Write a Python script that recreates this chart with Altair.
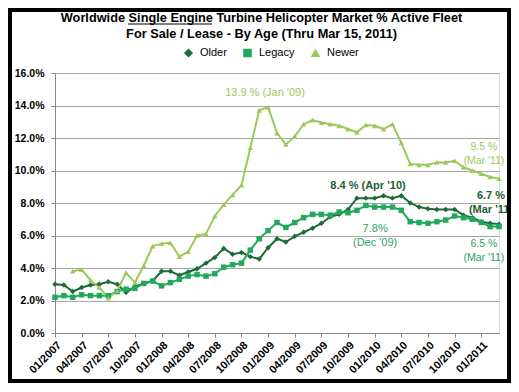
import altair as alt
import pandas as pd

# ---- data -------------------------------------------------------------
months = []
for yr in range(2007, 2012):
    for m in range(1, 13):
        if yr == 2011 and m > 3:
            break
        months.append(f"{m:02d}/{yr}")

series_names = ["Older", "Legacy", "Newer"]
series_colors = ["#1D6B38", "#22A85B", "#9CC95B"]
series_shapes = ["diamond", "square", "triangle-up"]

older = [3.0, 2.95, 2.55, 2.8, 2.95, 3.0, 3.15, 3.0, 2.5, 2.85,
         3.05, 3.2, 3.8, 3.8, 3.55, 3.75, 3.95, 4.3, 4.65, 5.2,
         4.85, 4.95, 4.7, 4.55, 5.25, 5.8, 5.6, 5.95, 6.2, 6.45,
         6.75, 7.15, 7.3, 7.6, 8.3, 8.3, 8.3, 8.45, 8.3, 8.45,
         8.0, 7.75, 7.65, 7.6, 7.6, 7.6, 7.25, 7.1, 6.85, 6.75,
         6.7]
legacy = [2.2, 2.3, 2.2, 2.35, 2.3, 2.3, 2.3, 2.55, 2.7, 2.75,
          3.05, 3.2, 2.9, 3.1, 3.3, 3.5, 3.6, 3.5, 3.65, 4.05,
          4.2, 4.3, 5.1, 5.8, 6.3, 6.8, 6.5, 6.8, 7.1, 7.3,
          7.3, 7.25, 7.45, 7.4, 7.55, 7.85, 7.75, 7.75, 7.75, 7.55,
          6.85, 6.8, 6.75, 6.85, 6.95, 7.2, 7.1, 7.0, 6.8, 6.55,
          6.55]
newer = [None, None, 3.8, 3.9, 3.25, 2.8, 2.15, 2.6, 3.7, 3.1,
         4.15, 5.35, 5.5, 5.55, 4.7, 5.0, 6.0, 6.1, 7.2, 7.9,
         8.5, 9.1, 11.4, 13.7, 13.9, 12.3, 11.6, 12.1, 12.85, 13.1,
         12.95, 12.85, 12.75, 12.55, 12.35, 12.8, 12.75, 12.55, 12.85, 11.7,
         10.4, 10.35, 10.35, 10.5, 10.5, 10.6, 10.2, 10.0, 9.8, 9.6,
         9.5]

y_ticks = [0, 2, 4, 6, 8, 10, 12, 14, 16]
x_ticks = list(range(0, len(months), 3))

ann_text = ["13.9 % (Jan '09)", "8.4 % (Apr '10)", "7.8%\n(Dec '09)",
            "9.5 %\n(Mar '11)", "6.7 %\n(Mar '11)", "6.5 %\n(Mar '11)"]
ann_x = [23.65, 35.25, 36.05, 48.3, 49.1, 48.3]
ann_y = [14.8, 9.02, 6.42, 11.42, 8.46, 5.45]

# annotation styles (kept apart from the values)
ann_color = ["#9CC95B", "#1D5E35", "#2AA464", "#9CC95B", "#1D5E35", "#2AA464"]
ann_weight = ["normal", "bold", "normal", "normal", "bold", "normal"]
ann_size = [11, 11, 11, 10.5, 11, 10.5]

rows = []
for name, vals in zip(series_names, [older, legacy, newer]):
    for i, v in enumerate(vals):
        if v is not None:
            rows.append({"idx": i, "month": months[i], "series": name, "value": v})
df = pd.DataFrame(rows)

ann_df = pd.DataFrame({"k": list(range(len(ann_text))), "text": ann_text,
                       "idx": ann_x, "value": ann_y})

FONT = "Liberation Sans"

label_array = "[" + ",".join("'" + m + "'" for m in months) + "]"

x_enc = alt.X("idx:Q",
              scale=alt.Scale(domain=[0, len(months) - 1], nice=False, zero=False),
              axis=alt.Axis(values=x_ticks, labelExpr=label_array + "[datum.value]",
                            labelAngle=-45, title=None, grid=False, labelOverlap=False,
                            labelFont=FONT, labelFontSize=11, labelFontWeight="bold",
                            labelColor="black", tickSize=4, tickColor="#888888",
                            domainColor="#888888", labelPadding=2))
y_enc = alt.Y("value:Q",
              scale=alt.Scale(domain=[0, 16], nice=False),
              axis=alt.Axis(values=y_ticks, labelOverlap=False,
                            labelExpr="format(datum.value, '.1f') + '%'",
                            title=None, grid=True, gridColor="#a8a8a8",
                            labelFont=FONT, labelFontSize=10.5, labelFontWeight="bold",
                            labelColor="black", tickSize=4, tickColor="#888888",
                            domainColor="#888888", labelPadding=7))

color_scale = alt.Scale(domain=series_names, range=series_colors)
shape_scale = alt.Scale(domain=series_names, range=series_shapes)

leg = alt.Legend(orient="none", legendX=128, legendY=-26, direction="horizontal",
                 title=None, labelFont=FONT, labelFontSize=11, labelColor="black",
                 symbolSize=50, columnPadding=13, labelOffset=6)

lines = alt.Chart(df).mark_line(strokeWidth=2).encode(
    x=x_enc, y=y_enc,
    color=alt.Color("series:N", scale=color_scale, legend=leg),
)

points = alt.Chart(df).mark_point(filled=True, size=30, opacity=1).encode(
    x=x_enc, y=y_enc,
    color=alt.Color("series:N", scale=color_scale, legend=leg),
    shape=alt.Shape("series:N", scale=shape_scale, legend=leg),
)

ann_layers = []
for k in range(len(ann_text)):
    ann_layers.append(
        alt.Chart(ann_df).transform_filter(alt.datum.k == k).mark_text(
            font=FONT, fontSize=ann_size[k], fontWeight=ann_weight[k],
            color=ann_color[k], lineBreak="\n", lineHeight=14,
            align="center", baseline="middle")
        .encode(x=x_enc, y=y_enc, text="text:N")
    )

frame_df = pd.DataFrame({"k": [0]})
frame = alt.Chart(frame_df).mark_rect(filled=False, stroke="black", strokeWidth=4).encode(
    x=alt.value(-45), x2=alt.value(454), y=alt.value(-63), y2=alt.value(308))

underline = alt.Chart(frame_df).mark_rule(color="black", strokeWidth=1).encode(
    x=alt.value(73), x2=alt.value(157), y=alt.value(-49))

chart = alt.layer(lines, points, *ann_layers, frame, underline).properties(
    width=444, height=260,
    padding={"left": 47, "top": 65, "right": 12, "bottom": 51},
    autosize=alt.AutoSizeParams(type="none"),
    title=alt.TitleParams(
        text=["Worldwide Single Engine Turbine Helicopter Market % Active Fleet",
              "For Sale / Lease - By Age (Thru Mar 15, 2011)"],
        font=FONT, fontSize=12.75, fontWeight="bold", color="black",
        anchor="middle", frame="bounds", dx=1, offset=0, dy=33, lineHeight=16),
).configure_view(strokeWidth=0).configure(background="white")

chart.save("out.html", embed_options={"renderer": "svg", "actions": False})
